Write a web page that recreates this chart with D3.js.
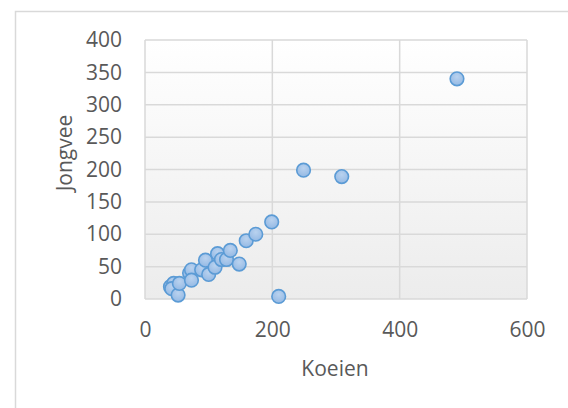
<!DOCTYPE html>
<html>
<head>
<meta charset="utf-8">
<script src="https://cdn.jsdelivr.net/npm/d3@7"></script>
<style>
  body { margin: 0; background: #fff; }
  text { font-family: "Open Sans", sans-serif; fill: #595959; }
</style>
</head>
<body>
<div id="chart"></div>
<script>
// values
const koeien  = [40, 45, 42, 52, 54, 70, 73, 73, 89, 95, 100, 110, 114, 120, 128, 134, 148, 159, 174, 199, 210, 249, 309, 490];
const jongvee = [19, 24, 16,  6, 24, 40, 45, 29, 45, 60,  38,  49,  70,  61,  61,  75,  54,  90, 100, 119,   4, 199, 189, 340];
const xTicks = [0, 200, 400, 600];
const yTicks = [0, 50, 100, 150, 200, 250, 300, 350, 400];
const xTitle = "Koeien";
const yTitle = "Jongvee";

const width = 568, height = 408;
const margin = { top: 40, right: 41, bottom: 109, left: 145 };
const w = width - margin.left - margin.right;
const h = height - margin.top - margin.bottom;

const svg = d3.select("#chart").append("svg")
  .attr("width", width).attr("height", height);

const defs = svg.append("defs");
const bg = defs.append("linearGradient").attr("id", "bg")
  .attr("x1", 0).attr("y1", 0).attr("x2", 0).attr("y2", 1);
bg.append("stop").attr("offset", "0%").attr("stop-color", "#ffffff");
bg.append("stop").attr("offset", "100%").attr("stop-color", "#ececec");

const dot = defs.append("radialGradient").attr("id", "dot")
  .attr("cx", "50%").attr("cy", "35%").attr("r", "65%");
dot.append("stop").attr("offset", "0%").attr("stop-color", "#b9d2ef");
dot.append("stop").attr("offset", "100%").attr("stop-color", "#94b9e4");

// chart border (runs off the image at right/bottom)
svg.append("rect")
  .attr("x", 15.5).attr("y", 11.5)
  .attr("width", 600).attr("height", 450)
  .attr("fill", "#fff").attr("stroke", "#d9d9d9").attr("stroke-width", 1.5);

const g = svg.append("g").attr("transform", `translate(${margin.left},${margin.top})`);

const x = d3.scaleLinear().domain([0, 600]).range([0, w]);
const y = d3.scaleLinear().domain([0, 400]).range([h, 0]);

g.append("rect").attr("width", w).attr("height", h).attr("fill", "url(#bg)");

// gridlines
g.append("g").selectAll("line").data(yTicks).join("line")
  .attr("x1", 0).attr("x2", w)
  .attr("y1", d => y(d)).attr("y2", d => y(d))
  .attr("stroke", "#d9d9d9").attr("stroke-width", 1.5);
g.append("g").selectAll("line").data(xTicks).join("line")
  .attr("y1", 0).attr("y2", h)
  .attr("x1", d => x(d)).attr("x2", d => x(d))
  .attr("stroke", "#d9d9d9").attr("stroke-width", 1.5);

// axes, lines hidden, labels only
const xAxis = g.append("g").attr("transform", `translate(0,${h})`)
  .call(d3.axisBottom(x).tickValues(xTicks).tickSize(0).tickPadding(23));
const yAxis = g.append("g")
  .call(d3.axisLeft(y).tickValues(yTicks).tickSize(0).tickPadding(23));
[xAxis, yAxis].forEach(a => {
  a.select(".domain").remove();
  a.selectAll("text").attr("font-size", 21).attr("font-family", null).style("fill", "#595959");
});

// points
g.append("g").selectAll("circle").data(koeien.map((k, i) => [k, jongvee[i]])).join("circle")
  .attr("cx", d => x(d[0])).attr("cy", d => y(d[1]))
  .attr("r", 6.8)
  .attr("fill", "url(#dot)")
  .attr("stroke", "#5b9bd5").attr("stroke-width", 1.6);

// axis titles
svg.append("text").attr("x", 335).attr("y", 368)
  .attr("text-anchor", "middle").attr("dominant-baseline", "central")
  .attr("font-size", 21).text(xTitle);
svg.append("text")
  .attr("transform", "translate(64,153) rotate(-90)")
  .attr("text-anchor", "middle").attr("dominant-baseline", "central")
  .attr("font-size", 21).text(yTitle);
</script>
</body>
</html>
